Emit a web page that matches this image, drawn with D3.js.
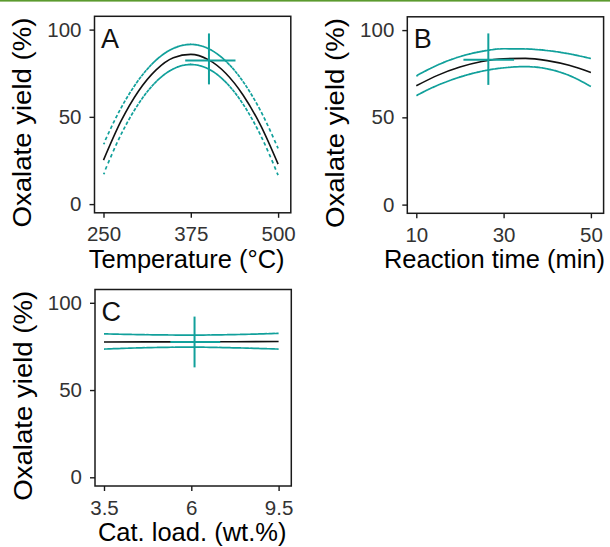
<!DOCTYPE html>
<html>
<head>
<meta charset="utf-8">
<script src="https://cdn.jsdelivr.net/npm/d3@7"></script>
<style>
  html, body { margin: 0; padding: 0; background: #fff; }
  svg { display: block; font-family: "Liberation Sans", Arial, sans-serif; }
</style>
</head>
<body>
<svg id="chart" width="610" height="547"></svg>
<script>
// Panel A: temperature (°C)
const tempX     = [250, 275, 300, 325, 350, 375, 400, 425, 450, 475, 500];
const tempFit   = [25.2, 47.5, 64.7, 76.8, 83.9, 85.8, 82.8, 75.0, 62.4, 45.1, 22.9];
const tempUpper = [34.4, 55.0, 71.0, 82.4, 89.2, 91.5, 89.1, 82.0, 70.1, 53.4, 31.9];
const tempLower = [17.2, 39.8, 57.4, 70.0, 77.5, 80.0, 77.5, 69.9, 57.2, 39.4, 16.6];
const tempTicks = [250, 375, 500];
// optimum: [x, y, xLow, xHigh, yLow, yHigh]
const tempOpt   = [401, 82.3, 367, 439, 68.6, 97.8];

// Panel B: reaction time (min)
const timeX     = [10, 15, 20, 25, 30, 35, 40, 45, 50];
const timeFit   = [68.1, 74.2, 78.8, 82.0, 83.6, 83.8, 82.5, 79.8, 75.7];
const timeUpper = [73.8, 80.1, 84.8, 87.8, 89.3, 89.2, 88.3, 86.4, 83.7];
const timeLower = [62.5, 68.5, 73.1, 76.4, 78.4, 79.1, 77.8, 74.0, 67.7];
const timeTicks = [10, 30, 50];
const timeOpt   = [26.5, 83.0, 20.8, 32.4, 68.6, 98.1];

// Panel C: catalyst loading (wt.%)
const loadX     = [3.5, 4.75, 6, 7.75, 9.5];
const loadFit   = [77.5, 77.6, 77.6, 77.7, 77.8];
const loadUpper = [82.2, 81.7, 81.5, 81.8, 82.5];
const loadLower = [73.5, 74.3, 74.6, 74.2, 73.5];
const loadTicks = [3.5, 6, 9.5];
const loadOpt   = [6.13, 77.6, 5.4, 7.16, 63.0, 92.1];

const yTicks = [0, 50, 100];

const TEAL = '#11a09b';
const BOX_W = 196.3, BOX_H = 196.5;

const svg = d3.select('#chart');

// thin green rule along the top edge
svg.append('rect')
    .attr('x', 0).attr('y', 0)
    .attr('width', 610).attr('height', 1.6)
    .attr('fill', '#5b9a2e');

const panels = [
    { letter: 'A', left: 94.5, top: 16.3, xs: tempX, fit: tempFit, upper: tempUpper, lower: tempLower,
      ticks: tempTicks, opt: tempOpt, title: 'Temperature (°C)', titleDx: -6, titleDy: 55.5 },
    { letter: 'B', left: 407.3, top: 16.8, xs: timeX, fit: timeFit, upper: timeUpper, lower: timeLower,
      ticks: timeTicks, opt: timeOpt, title: 'Reaction time (min)', titleDx: -11, titleDy: 55 },
    { letter: 'C', left: 95, top: 289.5, xs: loadX, fit: loadFit, upper: loadUpper, lower: loadLower,
      ticks: loadTicks, opt: loadOpt, title: 'Cat. load. (wt.%)', titleDx: -1, titleDy: 55 }
];

panels.forEach(drawPanel);

/**
 * Teal bound drawn as short strokes at even x steps,
 * so steep stretches break up into dashes
 */
function stipple(g, xs, ys, x, y) {
    const guide = g.append('path')
        .attr('fill', 'none')
        .attr('stroke', 'none')
        .attr('d', d3.line()
            .x((d, i) => x(xs[i]))
            .y(d => y(d))
            .curve(d3.curveMonotoneX)(ys));
    const node = guide.node();
    const len = node.getTotalLength();
    const pts = d3.range(0, len, 0.4).map(l => node.getPointAtLength(l));
    pts.push(node.getPointAtLength(len));
    guide.remove();

    const bis = d3.bisector(p => p.x).left;
    const yAt = px => {
        const i = Math.max(1, Math.min(pts.length - 1, bis(pts, px)));
        const a = pts[i - 1], b = pts[i];
        const t = b.x === a.x ? 0 : (px - a.x) / (b.x - a.x);
        return a.y + t * (b.y - a.y);
    };

    const x0 = pts[0].x, x1 = pts[pts.length - 1].x;
    const step = 2.6, dash = 3.5;
    let d = '';
    for (let px = x0; px <= x1 + 0.01; px += step) {
        const cx = Math.min(px, x1);
        const cy = yAt(cx);
        const slope = yAt(Math.min(cx + 0.5, x1)) - yAt(Math.max(cx - 0.5, x0));
        const hx = dash / 2 / Math.sqrt(1 + slope * slope);
        const ax = Math.max(x0, cx - hx), bx = Math.min(x1, cx + hx);
        d += `M${ax},${cy - (cx - ax) * slope}L${bx},${cy + (bx - cx) * slope}`;
    }
    g.append('path')
        .attr('d', d)
        .attr('fill', 'none')
        .attr('stroke', TEAL)
        .attr('stroke-width', 1.7);
}

function drawPanel(p) {
    const g = svg.append('g').attr('transform', `translate(${p.left},${p.top})`);

    const x = d3.scaleLinear().domain(p.ticks).range([9, 96.3, 183.6]);
    const y = d3.scaleLinear().domain([0, 100]).range([BOX_H - 8.7, 13.3]);

    g.append('rect')
        .attr('width', BOX_W).attr('height', BOX_H)
        .attr('fill', '#fff');

    // fitted response
    g.append('path')
        .attr('fill', 'none')
        .attr('stroke', '#111')
        .attr('stroke-width', 1.6)
        .attr('d', d3.line()
            .x((d, i) => x(p.xs[i]))
            .y(d => y(d))
            .curve(d3.curveMonotoneX)(p.fit));

    stipple(g, p.xs, p.upper, x, y);
    stipple(g, p.xs, p.lower, x, y);

    // optimum cross
    const [ox, oy, xLo, xHi, yLo, yHi] = p.opt;
    g.append('line')
        .attr('x1', x(ox)).attr('x2', x(ox))
        .attr('y1', y(yLo)).attr('y2', y(yHi))
        .attr('stroke', TEAL).attr('stroke-width', 2);
    g.append('line')
        .attr('x1', x(xLo)).attr('x2', x(xHi))
        .attr('y1', y(oy)).attr('y2', y(oy))
        .attr('stroke', TEAL).attr('stroke-width', 2);

    g.append('rect')
        .attr('width', BOX_W).attr('height', BOX_H)
        .attr('fill', 'none')
        .attr('stroke', '#1a1a1a')
        .attr('stroke-width', 1.5);

    g.append('text')
        .attr('x', 6.5).attr('y', 31.4)
        .attr('font-size', 27)
        .attr('fill', '#111')
        .text(p.letter);

    // axes
    const yAxis = g.append('g')
        .call(d3.axisLeft(y).tickValues(yTicks).tickSize(5).tickPadding(8));
    const xAxis = g.append('g')
        .attr('transform', `translate(0,${BOX_H})`)
        .call(d3.axisBottom(x).tickValues(p.ticks).tickSize(5).tickPadding(9)
            .tickFormat(d => String(d)));

    [xAxis, yAxis].forEach(a => {
        a.select('.domain').remove();
        a.attr('font-family', null).attr('font-size', 20.5);
        a.selectAll('.tick line').attr('stroke', '#1a1a1a').attr('stroke-width', 1.4);
        a.selectAll('.tick text').attr('fill', '#333');
    });

    g.append('text')
        .attr('x', BOX_W / 2 + p.titleDx)
        .attr('y', BOX_H + p.titleDy)
        .attr('text-anchor', 'middle')
        .attr('font-size', 25.5)
        .attr('fill', '#000')
        .text(p.title);

    g.append('text')
        .attr('transform', `translate(-63.5,${BOX_H / 2 + 8}) rotate(-90)`)
        .attr('text-anchor', 'middle')
        .attr('font-size', 25.5)
        .attr('textLength', 210)
        .attr('lengthAdjust', 'spacingAndGlyphs')
        .attr('fill', '#000')
        .text('Oxalate yield (%)');
}
</script>
</body>
</html>
